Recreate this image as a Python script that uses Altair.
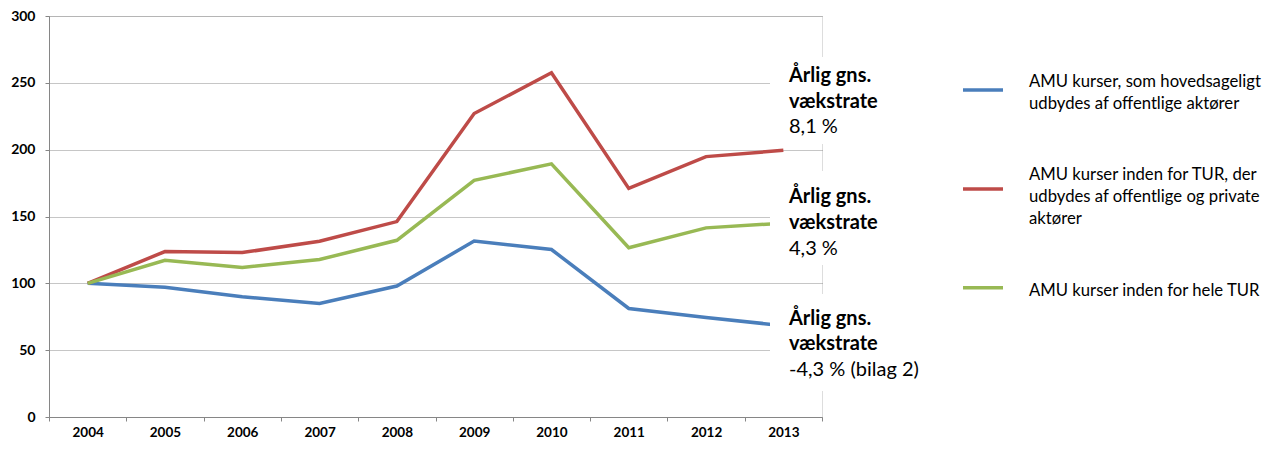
import altair as alt
import pandas as pd

years = ["2004", "2005", "2006", "2007", "2008", "2009", "2010", "2011", "2012", "2013"]
offentlige = [100, 97, 90, 85, 98, 131.6, 125.3, 81.2, 74.5, 68.3]
tur_off_priv = [100, 123.8, 123, 131.5, 146.2, 227, 257.6, 171, 194.8, 199.5]
hele_tur = [100, 117.3, 111.9, 117.8, 132.2, 177, 189.4, 126.6, 141.5, 145]

series_names = ["offentlige", "tur_off_priv", "hele_tur"]
series_colors = ["#4a7ebb", "#be4b48", "#98b954"]

legend_lines = [
    ["AMU kurser, som hovedsageligt", "udbydes af offentlige aktører"],
    ["AMU kurser inden for TUR, der", "udbydes af offentlige og private", "aktører"],
    ["AMU kurser inden for hele TUR"],
]
annotations = [
    ["Årlig gns.", "vækstrate", "8,1 %"],
    ["Årlig gns.", "vækstrate", "4,3 %"],
    ["Årlig gns.", "vækstrate", "-4,3 % (bilag 2)"],
]

rows = []
for name, vals in zip(series_names, [offentlige, tur_off_priv, hele_tur]):
    for i, (yr, v) in enumerate(zip(years, vals)):
        rows.append({"year": yr, "value": v, "series": name, "order": i})
df = pd.DataFrame(rows)

FONT = "Lato"
one = pd.DataFrame({"a": [0]})

lines = alt.Chart(df).mark_line(strokeWidth=3.5).encode(
    x=alt.X(
        "year:O",
        sort=years,
        bandPosition=0.5,
        scale=alt.Scale(type="band", paddingInner=0, paddingOuter=0),
        axis=alt.Axis(
            title=None,
            labelAngle=0,
            labelFont=FONT,
            labelFontWeight="bold",
            labelFontSize=13.5,
            labelColor="#000000",
            labelPadding=4,
            domainColor="#868686",
            tickColor="#868686",
            tickSize=4,
            tickBand="extent",
            tickExtra=True,
            grid=False,
        ),
    ),
    y=alt.Y(
        "value:Q",
        scale=alt.Scale(domain=[0, 300], nice=False),
        axis=alt.Axis(
            title=None,
            values=[0, 50, 100, 150, 200, 250, 300],
            labelFont=FONT,
            labelFontWeight="bold",
            labelFontSize=14,
            labelColor="#000000",
            labelPadding=10,
            domainColor="#868686",
            tickColor="#868686",
            tickSize=4,
            grid=True,
            gridColor="#8c8c8c",
            gridDash=[1, 1],
            gridWidth=1,
        ),
    ),
    color=alt.Color(
        "series:N",
        scale=alt.Scale(domain=series_names, range=series_colors),
        legend=None,
    ),
    order="order:Q",
)

layers = [lines]

# white boxes behind the annotations (hide gridlines/line ends)
for y0, y1 in [(41, 128), (155, 249), (278, 375)]:
    layers.append(
        alt.Chart(one).mark_rect(color="white").encode(
            x=alt.value(721), x2=alt.value(775), y=alt.value(y0), y2=alt.value(y1)
        )
    )

def text(t, x, y, size, weight="normal"):
    return alt.Chart(one).mark_text(
        align="left", baseline="alphabetic", font=FONT, fontSize=size,
        fontWeight=weight, color="#000000",
    ).encode(x=alt.value(x), y=alt.value(y), text=alt.value(t))

ann_baselines = [[66.3, 92.3, 117.3], [187.3, 213, 239], [309, 333.7, 359.7]]
for lines_txt, ys in zip(annotations, ann_baselines):
    for j, (t, yy) in enumerate(zip(lines_txt, ys)):
        layers.append(text(t, 740, yy, 20, "bold" if j < 2 else "normal"))

# legend
leg_rule_y = [74, 173, 271.7]
leg_text_y = [[70.7, 93], [163.7, 185.7, 208], [279.7]]
for col, ry, tl, tys in zip(series_colors, leg_rule_y, legend_lines, leg_text_y):
    layers.append(
        alt.Chart(one).mark_rule(color=col, strokeWidth=3.5).encode(
            x=alt.value(914), x2=alt.value(954), y=alt.value(ry)
        )
    )
    for t, yy in zip(tl, tys):
        layers.append(text(t, 980, yy, 16.7))

chart = alt.layer(*layers).properties(
    width=773,
    height=401,
    autosize=alt.AutoSizeParams(type="none"),
    padding={"left": 41, "top": 8, "right": 440, "bottom": 24},
).configure_view(stroke=None).configure(background="white")

chart.save("out.html", embed_options={"renderer": "svg", "actions": False})
